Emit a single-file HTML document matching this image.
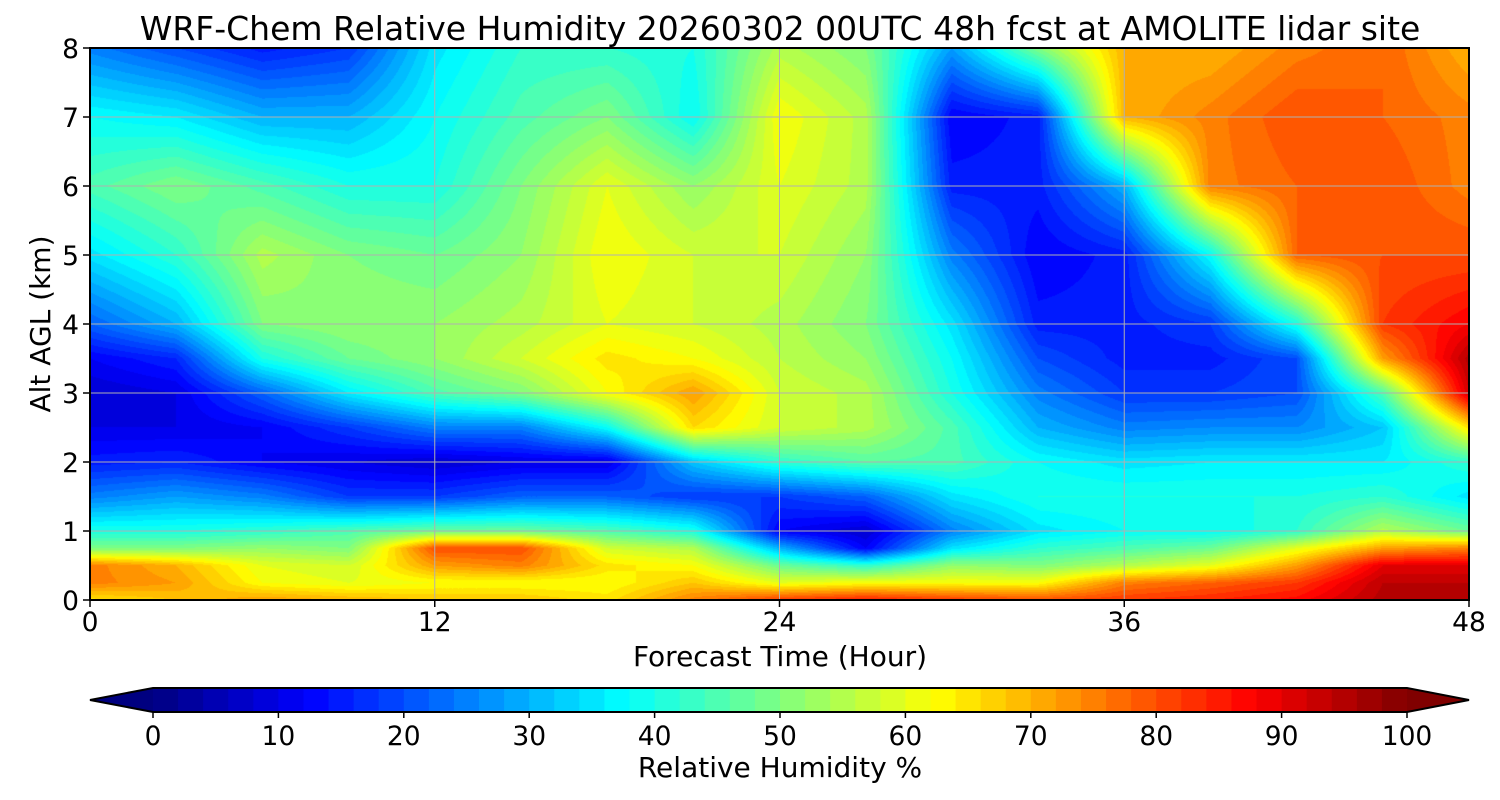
<!DOCTYPE html>
<html><head><meta charset="utf-8">
<style>
body{margin:0;background:#fff;width:1500px;height:800px;overflow:hidden;font-family:"DejaVu Sans","Liberation Sans",sans-serif;}
#wrap{position:relative;width:1500px;height:800px;}
canvas{position:absolute;left:90px;top:48px;}
svg{position:absolute;left:0;top:0;}
</style></head>
<body>
<div id="wrap">
<canvas id="cv" width="1379" height="552"></canvas>
<svg id="sv" width="1500" height="800"></svg>
</div>
<script>
const times=[0,3,6,9,12,15,18,21,24,27,30,33,36,39,42,45,48];
const alts=[0,0.25,0.5,0.75,1,1.5,2,2.5,3,3.5,4,5,6,7,8];
const rh=[
[65,75,75,50,40,25,15,10,8,12,22,35,45,38,25],
[68,72,70,50,40,28,16,10,10,16,30,42,50,36,20],
[72,62,60,52,42,25,12,12,22,40,50,55,45,30,15],
[70,60,58,50,45,18,10,18,36,48,52,50,40,30,18],
[68,62,72,80,48,18,8,25,45,52,52,48,40,38,35],
[68,62,75,80,48,22,10,25,50,58,55,52,50,45,42],
[65,62,65,58,45,22,10,38,62,65,60,62,60,50,42],
[75,68,62,55,40,18,32,66,72,62,58,58,52,38,40],
[82,60,48,30,12,18,42,58,58,56,55,58,60,62,55],
[85,62,42,12,8,22,46,55,55,52,50,52,55,55,50],
[82,62,52,35,25,35,45,45,40,38,35,25,15,12,28],
[80,62,50,42,35,40,38,30,25,20,15,12,15,15,50],
[82,75,55,45,38,40,35,25,18,15,15,15,30,70,70],
[84,78,60,48,38,40,36,26,18,15,18,38,75,75,70],
[87,82,72,60,42,40,36,26,20,20,40,78,78,80,75],
[95,94,90,72,55,42,36,32,45,72,82,80,80,78,78],
[95,94,90,75,48,35,42,65,92,95,88,80,75,75,70]];
const xTicks=[0,12,24,36,48];
const yTicks=[0,1,2,3,4,5,6,7,8];
const cbTicks=[0,10,20,30,40,50,60,70,80,90,100];

const PX=90,PY=48,PW=1379,PH=552;
const xs=t=>PX+t/48*PW, ys=a=>PY+PH-a/8*PH;
function clip(v){return Math.max(0,Math.min(1,v));}
function jet(x){return [clip(1.5-Math.abs(4*x-3)),clip(1.5-Math.abs(4*x-2)),clip(1.5-Math.abs(4*x-1))].map(v=>Math.round(v*255));}
function idx(arr,v){let i=0;while(i<arr.length-2&&v>arr[i+1])i++;return [i,(v-arr[i])/(arr[i+1]-arr[i])];}
const cv=document.getElementById('cv'),ctx=cv.getContext('2d');
const img=ctx.createImageData(PW,PH);
for(let py=0;py<PH;py++){
 const a=(PH-py-0.5)/PH*8;const [j,fy]=idx(alts,a);
 for(let px=0;px<PW;px++){
  const t=(px+0.5)/PW*48;const [i,fx]=idx(times,t);
  const v=rh[i][j]*(1-fx)*(1-fy)+rh[i+1][j]*fx*(1-fy)+rh[i][j+1]*(1-fx)*fy+rh[i+1][j+1]*fx*fy;
  const q=(Math.floor(v/2)*2+1)/100;const c=jet(q);const k=(py*PW+px)*4;
  img.data[k]=c[0];img.data[k+1]=c[1];img.data[k+2]=c[2];img.data[k+3]=255;}
}
ctx.putImageData(img,0,0);
const sv=document.getElementById('sv');const NS='http://www.w3.org/2000/svg';
function el(tag,attrs,parent){const e=document.createElementNS(NS,tag);for(const k in attrs)e.setAttribute(k,attrs[k]);(parent||sv).appendChild(e);return e;}
function txt(s,attrs){const e=el('text',attrs);e.textContent=s;return e;}
xTicks.forEach(t=>{const l=el('line',{x1:xs(t),x2:xs(t),y1:PY,y2:PY+PH,stroke:'#b0b0b0','stroke-width':1});


el('line',{x1:xs(t),x2:xs(t),y1:PY+PH,y2:PY+PH+7,stroke:'#000','stroke-width':1.5});
const tx=txt(String(t),{x:xs(t),y:631,'font-size':26.5,'text-anchor':'middle'});

});
yTicks.forEach(a=>{const l=el('line',{x1:PX,x2:PX+PW,y1:ys(a),y2:ys(a),stroke:'#b0b0b0','stroke-width':1});


el('line',{x1:PX-7,x2:PX,y1:ys(a),y2:ys(a),stroke:'#000','stroke-width':1.5});
const tx=txt(String(a),{x:PX-11,y:ys(a)+10,'font-size':26.5,'text-anchor':'end'});

});
const fr=el('rect',{x:PX,y:PY,width:PW,height:PH,fill:'none',stroke:'#000','stroke-width':2});


const ti=txt('WRF-Chem Relative Humidity 20260302 00UTC 48h fcst at AMOLITE lidar site',{x:780,y:40,'font-size':33,'text-anchor':'middle'});


const xl=txt('Forecast Time (Hour)',{x:780,y:666,'font-size':28,'text-anchor':'middle'});


const yl=txt('Alt AGL (km)',{x:0,y:0,'font-size':28,'text-anchor':'middle',transform:'translate(50,324) rotate(-90)'});


const CL=153,CR=1407,CT=688,CB=712;const cx=v=>CL+v/100*(CR-CL);
for(let s=0;s<50;s++){const c=jet((s*2+1)/100);
const r=el('rect',{x:cx(s*2),y:CT,width:(CR-CL)/50+0.6,height:CB-CT,fill:`rgb(${c})`});

}
const lt=el('polygon',{points:`${CL},${CT} 90,700 ${CL},${CB}`,fill:`rgb(${jet(0)})`});


const rt=el('polygon',{points:`${CR},${CT} 1469,700 ${CR},${CB}`,fill:`rgb(${jet(1)})`});


el('polygon',{points:`${CL},${CT} ${CR},${CT} 1469,700 ${CR},${CB} ${CL},${CB} 90,700`,fill:'none',stroke:'#000','stroke-width':2});
cbTicks.forEach(v=>{el('line',{x1:cx(v),x2:cx(v),y1:CB,y2:CB+6,stroke:'#000','stroke-width':1.5});
const tx=txt(String(v),{x:cx(v),y:745,'font-size':26.5,'text-anchor':'middle'});

});
const cl=txt('Relative Humidity %',{x:780,y:777,'font-size':28,'text-anchor':'middle'});


</script>
</body></html>
